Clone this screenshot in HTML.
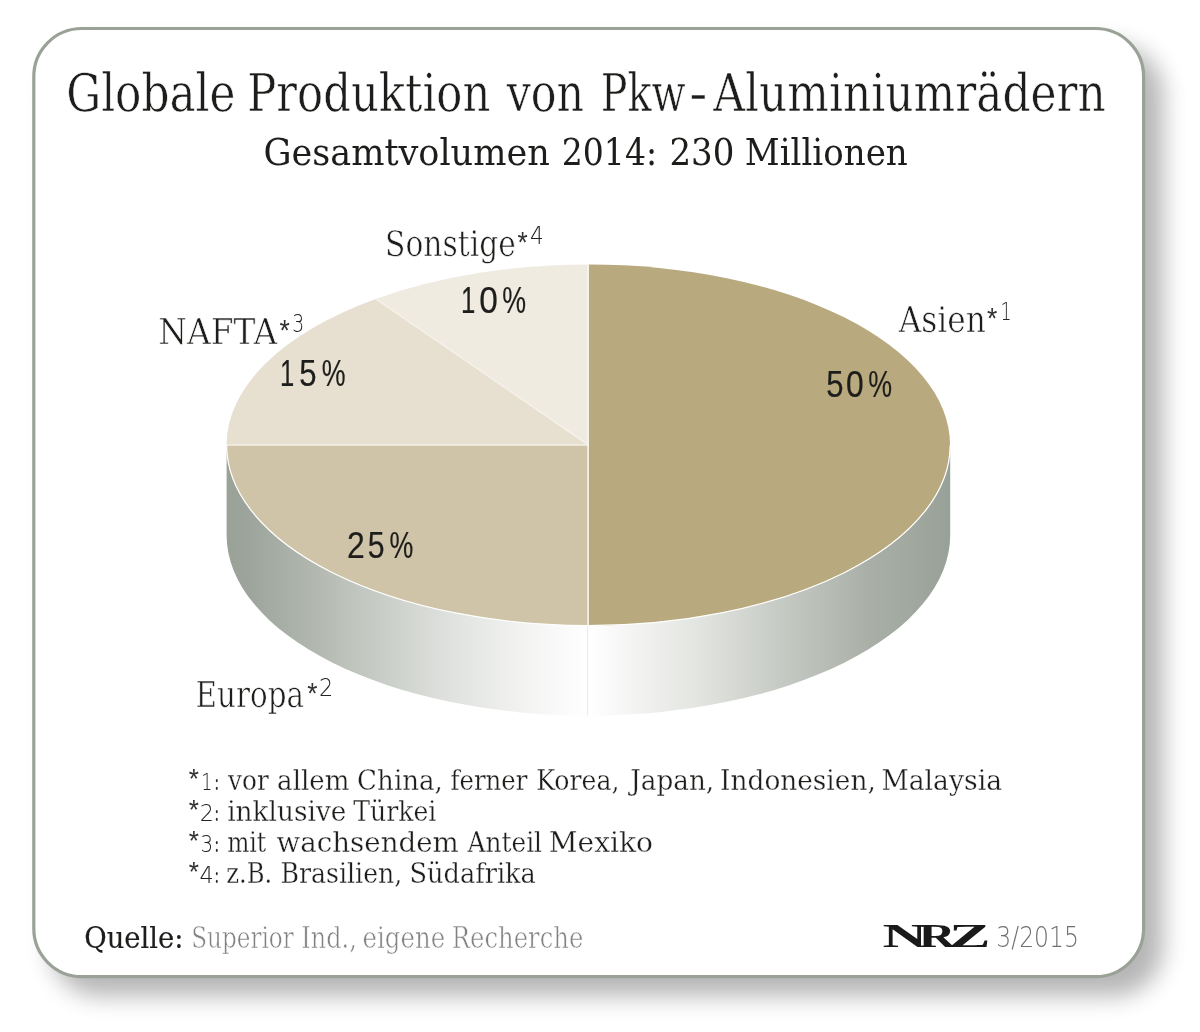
<!DOCTYPE html>
<html lang="de">
<head>
<meta charset="utf-8">
<title>Globale Produktion von Pkw-Aluminiumrädern</title>
<style>
html,body{margin:0;padding:0;background:#fff;}
body{width:1200px;height:1032px;position:relative;overflow:hidden;}
svg{position:absolute;left:0;top:0;display:block;}
.slab{font-family:"DejaVu Serif Condensed","DejaVu Serif","Liberation Serif",serif;font-stretch:condensed;}
.sans{font-family:"Liberation Sans","DejaVu Sans",sans-serif;}
.thin{font-family:"DejaVu Sans Light","DejaVu Sans","Liberation Sans",sans-serif;font-weight:200;}
.logo{font-family:"Liberation Serif","DejaVu Serif",serif;font-weight:bold;}
</style>
</head>
<body>
<svg width="1200" height="1032" viewBox="0 0 1200 1032">
<defs>
<linearGradient id="side" gradientUnits="userSpaceOnUse" x1="226.6" y1="0" x2="950.2" y2="0">
<stop offset="0" stop-color="#9aa298"/>
<stop offset="0.03" stop-color="#9ca49b"/>
<stop offset="0.122" stop-color="#b2b8b0"/>
<stop offset="0.209" stop-color="#c8ccc6"/>
<stop offset="0.296" stop-color="#dcdfdb"/>
<stop offset="0.384" stop-color="#eeefed"/>
<stop offset="0.471" stop-color="#fbfbfb"/>
<stop offset="0.5" stop-color="#ffffff"/>
<stop offset="0.65" stop-color="#e3e5e1"/>
<stop offset="0.77" stop-color="#c5c9c3"/>
<stop offset="0.89" stop-color="#a9afa7"/>
<stop offset="1" stop-color="#98a197"/>
</linearGradient>
<filter id="sh" x="-5%" y="-5%" width="112%" height="114%" color-interpolation-filters="sRGB">
<feGaussianBlur in="SourceAlpha" stdDeviation="11.5"/>
<feOffset dx="18" dy="17.5"/>
<feComponentTransfer><feFuncA type="linear" slope="0.29"/></feComponentTransfer>
</filter>
</defs>

<!-- card -->
<rect x="32.2" y="26.9" width="1113" height="951.3" rx="49.6" fill="#000" filter="url(#sh)"/>
<rect x="33.8" y="28.5" width="1109.8" height="948.1" rx="48" fill="#fff" stroke="#9aa298" stroke-width="3.2"/>

<!-- pie side -->
<path d="M226.6,445 L226.6,535 A361.8,180.6 0 0 0 950.2,535 L950.2,445 A361.8,180.6 0 0 1 226.6,445 Z" fill="url(#side)"/>
<line x1="588.4" y1="625" x2="588.4" y2="715.6" stroke="#fff" stroke-width="1" opacity=".8"/>
<line x1="587.6" y1="625" x2="587.6" y2="715.6" stroke="#d9dbd8" stroke-width=".6"/>

<!-- pie top -->
<g>
<path d="M588.4,445.0 L588.4,625.6 A361.8,180.6 0 0 0 588.4,264.4 Z" fill="#b8a97e"/>
<path d="M588.4,445.0 L226.6,445.0 A361.8,180.6 0 0 0 588.4,625.6 Z" fill="#cfc4a7"/>
<path d="M588.4,445.0 L375.7,298.9 A361.8,180.6 0 0 0 226.6,445.0 Z" fill="#e7e0d0"/>
<path d="M588.4,445.0 L588.4,264.4 A361.8,180.6 0 0 0 375.7,298.9 Z" fill="#efebe0"/>
</g>
<g fill="none" stroke-linecap="butt">
<path d="M588.4,445 L375.7,298.9" stroke="#f6f3ec" stroke-width="1.6" opacity=".75"/>
<path d="M226.6,445 L588.4,445" stroke="#f4f1e8" stroke-width="1.7"/>
<path d="M588.1,264.4 L588.1,625.6" stroke="#f8f5ee" stroke-width="1.6"/>
<path d="M226.6,445 A361.8,180.6 0 0 0 950.2,445" stroke="#ffffff" stroke-width="1.2"/>
</g>

<!-- headings -->
<text class="slab" font-size="52.6" fill="#1d1d1b" stroke="#fff" stroke-width=".55"><tspan x="66.18" y="110.7" textLength="169.24" lengthAdjust="spacingAndGlyphs">Globale</tspan> <tspan x="247.19" y="110.7" textLength="243.12" lengthAdjust="spacingAndGlyphs">Produktion</tspan> <tspan x="506.63" y="110.7" textLength="77.38" lengthAdjust="spacingAndGlyphs">von</tspan> <tspan x="600.74" y="110.7" textLength="84.95" lengthAdjust="spacingAndGlyphs">Pkw</tspan><tspan x="689.12" y="110.7" textLength="18.44" lengthAdjust="spacingAndGlyphs">-</tspan><tspan x="713.35" y="110.7" textLength="392.37" lengthAdjust="spacingAndGlyphs">Aluminiumrädern</tspan></text>
<text class="slab" font-size="38.2" fill="#1d1d1b"><tspan x="263.48" y="165" textLength="286.36" lengthAdjust="spacingAndGlyphs">Gesamtvolumen</tspan> <tspan x="561.77" y="165" textLength="95.31" lengthAdjust="spacingAndGlyphs">2014:</tspan> <tspan x="669.42" y="165" textLength="64.92" lengthAdjust="spacingAndGlyphs">230</tspan> <tspan x="744.81" y="165" textLength="162.92" lengthAdjust="spacingAndGlyphs">Millionen</tspan></text>
<!-- labels -->
<text class="slab" font-size="35.5" fill="#1d1d1b" stroke="#fff" stroke-width=".55"><tspan x="385.06" y="255.8" textLength="130.74" lengthAdjust="spacingAndGlyphs">Sonstige</tspan><tspan x="517.50" y="252" textLength="10.22" lengthAdjust="spacingAndGlyphs" class="sans" font-size="30" fill="#333331" stroke="none">*</tspan><tspan x="529.90" y="244.2" textLength="13.74" lengthAdjust="spacingAndGlyphs" class="thin" font-size="24" fill="#222220" stroke="none">4</tspan></text>
<text class="slab" font-size="35.5" fill="#1d1d1b" stroke="#fff" stroke-width=".55"><tspan x="158.30" y="344" textLength="119.02" lengthAdjust="spacingAndGlyphs">NAFTA</tspan><tspan x="279.40" y="340.2" textLength="10.31" lengthAdjust="spacingAndGlyphs" class="sans" font-size="30" fill="#333331" stroke="none">*</tspan><tspan x="292.22" y="331.8" textLength="11.96" lengthAdjust="spacingAndGlyphs" class="thin" font-size="24" fill="#222220" stroke="none">3</tspan></text>
<text class="slab" font-size="35.5" fill="#1d1d1b" stroke="#fff" stroke-width=".55"><tspan x="898.70" y="332" textLength="87.13" lengthAdjust="spacingAndGlyphs">Asien</tspan><tspan x="987.00" y="328.2" textLength="10.31" lengthAdjust="spacingAndGlyphs" class="sans" font-size="30" fill="#333331" stroke="none">*</tspan><tspan x="1000.55" y="320" textLength="11.11" lengthAdjust="spacingAndGlyphs" class="thin" font-size="24" fill="#222220" stroke="none">1</tspan></text>
<text class="slab" font-size="35.5" fill="#1d1d1b" stroke="#fff" stroke-width=".55"><tspan x="195.61" y="707.2" textLength="108.40" lengthAdjust="spacingAndGlyphs">Europa</tspan><tspan x="307.20" y="703.4" textLength="10.22" lengthAdjust="spacingAndGlyphs" class="sans" font-size="30" fill="#333331" stroke="none">*</tspan><tspan x="319.07" y="695.5" textLength="14.25" lengthAdjust="spacingAndGlyphs" class="thin" font-size="24" fill="#222220" stroke="none">2</tspan></text>
<!-- percentages -->
<text class="sans" font-size="36" fill="#1d1d1b" stroke="#1d1d1b" stroke-width=".2"><tspan x="461.07" y="313.2" textLength="14.31" lengthAdjust="spacingAndGlyphs">1</tspan><tspan x="479.17" y="313.2" textLength="18.58" lengthAdjust="spacingAndGlyphs">0</tspan><tspan x="502.26" y="313.2" textLength="23.79" lengthAdjust="spacingAndGlyphs">%</tspan></text>
<text class="sans" font-size="36" fill="#1d1d1b" stroke="#1d1d1b" stroke-width=".2"><tspan x="279.98" y="386.0" textLength="14.25" lengthAdjust="spacingAndGlyphs">1</tspan><tspan x="299.24" y="386.0" textLength="17.30" lengthAdjust="spacingAndGlyphs">5</tspan><tspan x="321.86" y="386.0" textLength="23.79" lengthAdjust="spacingAndGlyphs">%</tspan></text>
<text class="sans" font-size="36" fill="#1d1d1b" stroke="#1d1d1b" stroke-width=".2"><tspan x="826.24" y="397.2" textLength="17.30" lengthAdjust="spacingAndGlyphs">5</tspan><tspan x="846.12" y="397.2" textLength="17.69" lengthAdjust="spacingAndGlyphs">0</tspan><tspan x="868.36" y="397.2" textLength="23.79" lengthAdjust="spacingAndGlyphs">%</tspan></text>
<text class="sans" font-size="36" fill="#1d1d1b" stroke="#1d1d1b" stroke-width=".2"><tspan x="346.96" y="557.8" textLength="17.74" lengthAdjust="spacingAndGlyphs">2</tspan><tspan x="367.66" y="557.8" textLength="16.85" lengthAdjust="spacingAndGlyphs">5</tspan><tspan x="389.46" y="557.8" textLength="23.79" lengthAdjust="spacingAndGlyphs">%</tspan></text>
<!-- footnotes -->
<text class="slab" font-size="28.6" fill="#1d1d1b" stroke="#fff" stroke-width=".3"><tspan x="188.80" y="788.0" textLength="10.18" lengthAdjust="spacingAndGlyphs" class="sans" font-size="28.5" fill="#333331" stroke="none">*</tspan><tspan x="201.21" y="789.6" textLength="11.19" lengthAdjust="spacingAndGlyphs" class="thin" font-size="23.6" fill="#222220" stroke="none">1</tspan><tspan x="214.20" y="789.6" textLength="5.09" lengthAdjust="spacingAndGlyphs" font-size="24" fill="#2a2a28" stroke="none">:</tspan> <tspan x="228.11" y="789.6" textLength="40.67" lengthAdjust="spacingAndGlyphs">vor</tspan> <tspan x="277.14" y="789.6" textLength="72.21" lengthAdjust="spacingAndGlyphs">allem</tspan> <tspan x="357.14" y="789.6" textLength="85.71" lengthAdjust="spacingAndGlyphs">China,</tspan> <tspan x="450.45" y="789.6" textLength="77.04" lengthAdjust="spacingAndGlyphs">ferner</tspan> <tspan x="536.17" y="789.6" textLength="83.31" lengthAdjust="spacingAndGlyphs">Korea,</tspan> <tspan x="630.22" y="789.6" textLength="83.95" lengthAdjust="spacingAndGlyphs">Japan,</tspan> <tspan x="720.12" y="789.6" textLength="155.65" lengthAdjust="spacingAndGlyphs">Indonesien,</tspan> <tspan x="881.52" y="789.6" textLength="120.48" lengthAdjust="spacingAndGlyphs">Malaysia</tspan></text>
<text class="slab" font-size="28.6" fill="#1d1d1b" stroke="#fff" stroke-width=".3"><tspan x="188.80" y="819.0" textLength="10.18" lengthAdjust="spacingAndGlyphs" class="sans" font-size="28.5" fill="#333331" stroke="none">*</tspan><tspan x="199.86" y="820.6" textLength="14.14" lengthAdjust="spacingAndGlyphs" class="thin" font-size="23.6" fill="#222220" stroke="none">2</tspan><tspan x="214.20" y="820.6" textLength="5.09" lengthAdjust="spacingAndGlyphs" font-size="24" fill="#2a2a28" stroke="none">:</tspan> <tspan x="227.15" y="820.6" textLength="119.25" lengthAdjust="spacingAndGlyphs">inklusive</tspan> <tspan x="353.15" y="820.6" textLength="83.22" lengthAdjust="spacingAndGlyphs">Türkei</tspan></text>
<text class="slab" font-size="28.6" fill="#1d1d1b" stroke="#fff" stroke-width=".3"><tspan x="188.80" y="850.0" textLength="10.18" lengthAdjust="spacingAndGlyphs" class="sans" font-size="28.5" fill="#333331" stroke="none">*</tspan><tspan x="200.56" y="851.6" textLength="12.63" lengthAdjust="spacingAndGlyphs" class="thin" font-size="23.6" fill="#222220" stroke="none">3</tspan><tspan x="214.20" y="851.6" textLength="5.09" lengthAdjust="spacingAndGlyphs" font-size="24" fill="#2a2a28" stroke="none">:</tspan> <tspan x="227.15" y="851.6" textLength="39.09" lengthAdjust="spacingAndGlyphs">mit</tspan> <tspan x="276.55" y="851.6" textLength="182.32" lengthAdjust="spacingAndGlyphs">wachsendem</tspan> <tspan x="467.52" y="851.6" textLength="74.55" lengthAdjust="spacingAndGlyphs">Anteil</tspan> <tspan x="548.76" y="851.6" textLength="104.22" lengthAdjust="spacingAndGlyphs">Mexiko</tspan></text>
<text class="slab" font-size="28.6" fill="#1d1d1b" stroke="#fff" stroke-width=".3"><tspan x="188.80" y="881.0" textLength="10.18" lengthAdjust="spacingAndGlyphs" class="sans" font-size="28.5" fill="#333331" stroke="none">*</tspan><tspan x="199.45" y="882.6" textLength="14.20" lengthAdjust="spacingAndGlyphs" class="thin" font-size="23.6" fill="#222220" stroke="none">4</tspan><tspan x="214.20" y="882.6" textLength="5.09" lengthAdjust="spacingAndGlyphs" font-size="24" fill="#2a2a28" stroke="none">:</tspan> <tspan x="226.21" y="882.6" textLength="45.99" lengthAdjust="spacingAndGlyphs">z.B.</tspan> <tspan x="280.57" y="882.6" textLength="121.70" lengthAdjust="spacingAndGlyphs">Brasilien,</tspan> <tspan x="409.56" y="882.6" textLength="126.32" lengthAdjust="spacingAndGlyphs">Südafrika</tspan></text>
<!-- source line -->
<text class="slab" font-size="29.4" fill="#828282" stroke="#fff" stroke-width=".55"><tspan x="84.24" y="947.5" textLength="99.16" lengthAdjust="spacingAndGlyphs" fill="#1d1d1b" stroke="#1d1d1b" stroke-width=".15">Quelle:</tspan> <tspan x="191.28" y="947.5" textLength="102.48" lengthAdjust="spacingAndGlyphs">Superior</tspan> <tspan x="301.32" y="947.5" textLength="55.43" lengthAdjust="spacingAndGlyphs">Ind.,</tspan> <tspan x="362.60" y="947.5" textLength="82.57" lengthAdjust="spacingAndGlyphs">eigene</tspan> <tspan x="451.81" y="947.5" textLength="131.56" lengthAdjust="spacingAndGlyphs">Recherche</tspan></text>
<text class="logo" font-size="33.3" fill="#1a1a1a"><tspan x="882.60" y="946.6" textLength="44.48" lengthAdjust="spacingAndGlyphs">N</tspan><tspan x="918.50" y="946.6" textLength="37.03" lengthAdjust="spacingAndGlyphs">R</tspan><tspan x="949.13" y="946.6" textLength="41.53" lengthAdjust="spacingAndGlyphs">Z</tspan></text>
<text class="thin" font-size="28.8" fill="#707070"><tspan x="996.37" y="947.4" textLength="82.52" lengthAdjust="spacingAndGlyphs">3/2015</tspan></text>
</svg>
</body>
</html>
